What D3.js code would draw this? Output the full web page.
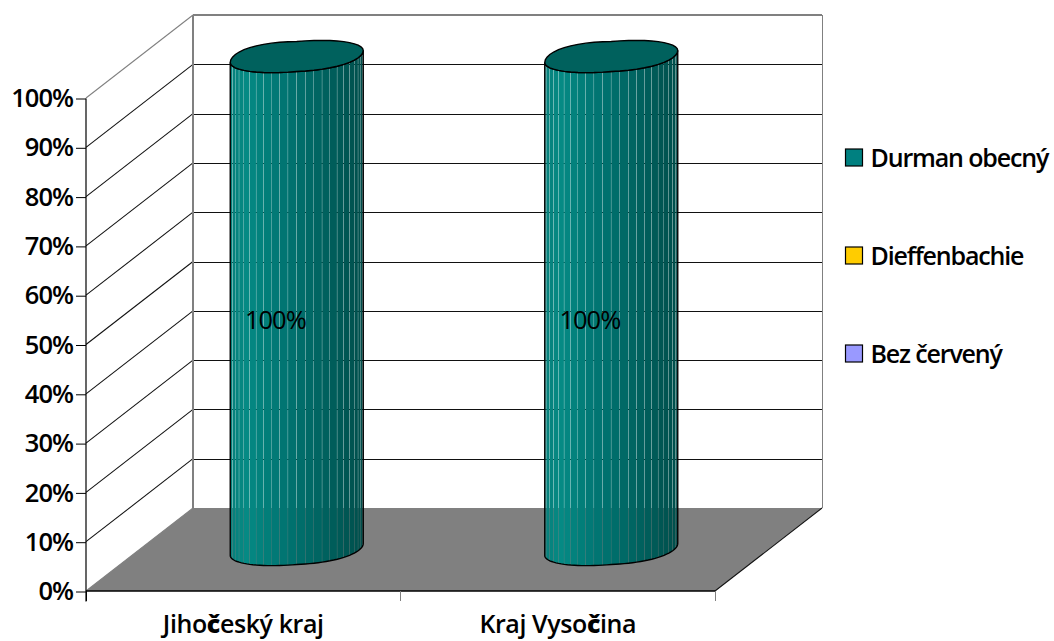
<!DOCTYPE html>
<html>
<head>
<meta charset="utf-8">
<script src="https://cdn.jsdelivr.net/npm/d3@7"></script>
<style>
html,body{margin:0;padding:0;background:#fff}
svg{display:block}
text{font-family:"Open Sans",sans-serif;fill:#000}
</style>
</head>
<body>
<svg id="chart" width="1054" height="641"></svg>
<script>
// Stacked share of each plant per region
const categories = ["Jihočeský kraj", "Kraj Vysočina"];
const seriesNames = ["Durman obecný", "Dieffenbachie", "Bez červený"];
const seriesColors = ["#008080", "#ffcc00", "#9999ff"];
const durmanValues = [1, 1];
const dieffenbachieValues = [0, 0];
const bezValues = [0, 0];
const seriesValues = [durmanValues, dieffenbachieValues, bezValues];
const tickValues = [0, .1, .2, .3, .4, .5, .6, .7, .8, .9, 1];

const svg = d3.select("#chart");
const pct = d3.format(".0%");

// Oblique projection: the front plane plus a depth offset
const depthX = 107, depthY = -83;
const x = d3.scaleBand().domain(categories).range([86, 715]);
const y = d3.scaleLinear().domain([0, 1]).range([591, 98]);
const project = (px, py, depth) => [px + depthX * depth, py + depthY * depth];

const thin = 1.05;
const walls = svg.append("g");

// Floor
const floor = [[86, 591], [715, 591], project(715, 591, 1), project(86, 591, 1)];
walls.append("polygon").attr("points", floor.join(" ")).attr("fill", "#808080");

// Grid lines on the back and side walls
tickValues.forEach(v => {
  const isTop = v === 1, isBase = v === 0;
  const back = project(86, y(v), 1), right = project(715, y(v), 1);
  if (!isBase) {
    walls.append("line").attr("x1", back[0]).attr("x2", right[0])
      .attr("y1", Math.round(back[1])).attr("y2", Math.round(back[1]))
      .attr("stroke", isTop ? "#808080" : "#111")
      .attr("stroke-width", isTop ? 2 : 1).attr("shape-rendering", "crispEdges");
  }
  walls.append("line").attr("x1", 86).attr("y1", y(v)).attr("x2", back[0]).attr("y2", back[1])
    .attr("stroke", (isTop || isBase) ? "#808080" : "#111").attr("stroke-width", thin);
});

// Back wall edges
const backTop = project(86, y(1), 1), backBottom = project(86, y(0), 1);
const rightTop = project(715, y(1), 1), rightBottom = project(715, y(0), 1);
walls.append("line").attr("x1", backTop[0]).attr("x2", backBottom[0]).attr("y1", backTop[1]).attr("y2", backBottom[1])
  .attr("stroke", "#808080").attr("stroke-width", 2).attr("shape-rendering", "crispEdges");
walls.append("line").attr("x1", rightTop[0]).attr("x2", rightBottom[0]).attr("y1", rightTop[1]).attr("y2", rightBottom[1])
  .attr("stroke", "#808080").attr("stroke-width", 1).attr("shape-rendering", "crispEdges");
walls.append("line").attr("x1", 715).attr("y1", 591).attr("x2", rightBottom[0]).attr("y2", rightBottom[1])
  .attr("stroke", "#111").attr("stroke-width", thin);

// Cylinder drawing
const defs = svg.append("defs");
const radius = 66.5, tilt = 6, minor = 15;
const stripCount = 24;
const shade = d3.scaleLinear()
  .domain([0, .12, .3, .5, .75, 1])
  .range(["#07807b", "#058a84", "#027c78", "#006f6c", "#005f5c", "#004e4b"]);

// Outline of a cap; the rim is slightly blunter at its upper left and lower right
function ellipsePoints(cx, cy, from, to) {
  return d3.range(0, 49).map(i => {
    const t = from + (to - from) * i / 48;
    const c = Math.cos(t), s = Math.sin(t);
    const blunt = c * s > 0 ? (s > 0 ? 3 : -5) * c * s : 0;
    return [cx + radius * c, cy - tilt * c + minor * s + (s > 0 ? Math.abs(blunt) : -Math.abs(blunt))];
  });
}

const line = d3.line();
const series = seriesNames.map((name, s) => ({ name, color: seriesColors[s], values: seriesValues[s] }));

categories.forEach((cat, c) => {
  const cx = x(cat) + x.bandwidth() / 2 + depthX / 2;
  let base = 0;
  series.forEach(sr => {
    const v = sr.values[c];
    if (v <= 0) return;
    const bottomY = y(base) + depthY / 2, topY = y(base + v) + depthY / 2;
    base += v;
    const front = ellipsePoints(cx, bottomY, Math.PI, 0);
    const frontTop = ellipsePoints(cx, topY, 0, Math.PI);
    const body = line(frontTop) + "L" + line(front).slice(1) + "Z";
    const clipId = "body" + c;
    defs.append("clipPath").attr("id", clipId).append("path").attr("d", body);

    // Facets of the curved side, separated by hairline seams
    const facets = svg.append("g").attr("clip-path", `url(#${clipId})`);
    d3.range(stripCount).forEach(k => {
      const a0 = Math.PI - k * Math.PI / stripCount, a1 = a0 - Math.PI / stripCount;
      const x0 = cx + radius * Math.cos(a0), x1 = cx + radius * Math.cos(a1);
      facets.append("rect")
        .attr("x", x0).attr("width", Math.max(x1 - x0 - .3, .2))
        .attr("y", topY - 30).attr("height", bottomY - topY + 60)
        .attr("fill", shade(((x0 + x1) / 2 - (cx - radius)) / (2 * radius)));
    });

    svg.append("path").attr("d", body).attr("fill", "none").attr("stroke", "#000").attr("stroke-width", 1.4);
    svg.append("path").attr("d", line(ellipsePoints(cx, topY, 0, 2 * Math.PI)) + "Z")
      .attr("fill", "#00615d").attr("stroke", "#000").attr("stroke-width", 1.4);

    // Value label
    const labelPos = project(x(cat) + x.bandwidth() / 2, y(base - v / 2), .3);
    svg.append("text").attr("class", "value").attr("x", labelPos[0]).attr("y", labelPos[1])
      .attr("dy", ".35em").attr("text-anchor", "middle").attr("font-size", 25.5)
      .attr("letter-spacing", -1).text(pct(v));
  });
});

// Value axis on the front edge
const yAxis = svg.append("g").attr("transform", "translate(86,0.5)")
  .call(d3.axisLeft(y).tickValues(tickValues).tickFormat(pct).tickSize(10).tickPadding(3));
yAxis.selectAll("path").attr("stroke", "#000").attr("stroke-width", 1.2).attr("d", `M0,${y(1)}V${y(0) + 10}`);
yAxis.selectAll("line").attr("stroke", "#000").attr("stroke-width", 1);
yAxis.selectAll("text").attr("font-size", 25.5).attr("font-weight", 600).attr("font-family", null)
  .attr("letter-spacing", -1);

// Category axis
const xAxis = svg.append("g").attr("transform", "translate(0,591)")
  .call(d3.axisBottom(x).tickSize(0).tickPadding(24));
xAxis.select("path").attr("stroke", "#000").attr("stroke-width", 1.6).attr("d", "M86,0H715");
xAxis.selectAll("text").attr("font-size", 25).attr("font-weight", 600).attr("font-family", null)
  .attr("letter-spacing", -.4)
  .each(function (d) {
    // The caron letter renders in a heavier cut
    const t = d3.select(this).text("");
    d.split(/(č)/).filter(Boolean).forEach(part => {
      t.append("tspan").attr("font-weight", part === "č" ? 800 : 600).text(part);
    });
  });
[...categories.map(c => x(c)), 715].forEach((tx, i) => {
  svg.append("line").attr("x1", tx).attr("x2", tx).attr("y1", 591).attr("y2", 601)
    .attr("stroke", i === 0 ? "#000" : "#808080").attr("stroke-width", 1).attr("shape-rendering", "crispEdges");
});

// Legend
const legendY = d3.scalePoint().domain(seriesNames).range([157.5, 353.5]);
const legend = svg.append("g").selectAll("g").data(series).join("g")
  .attr("transform", d => `translate(845,${legendY(d.name)})`);
legend.append("rect").attr("x", .5).attr("y", -8.5).attr("width", 17).attr("height", 17)
  .attr("fill", d => d.color).attr("stroke", "#000").attr("stroke-width", 1.2);
legend.append("text").attr("x", 25.5).attr("y", 9.5).attr("font-size", 25).attr("font-weight", 600)
  .attr("letter-spacing", -1.15).text(d => d.name);
</script>
</body>
</html>
